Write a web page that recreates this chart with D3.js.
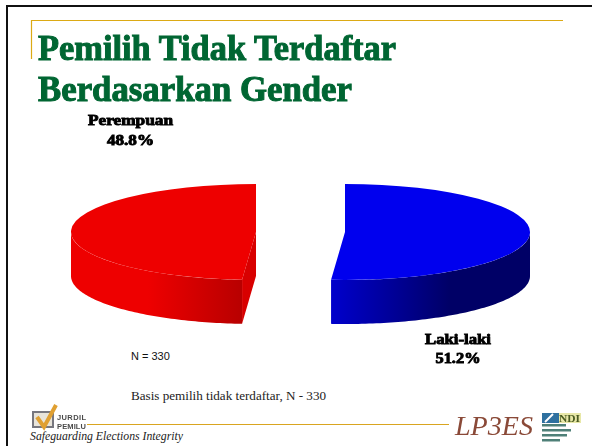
<!DOCTYPE html>
<html>
<head>
<meta charset="utf-8">
<script src="https://cdn.jsdelivr.net/npm/d3@7"></script>
<style>
  html, body { margin: 0; padding: 0; background: #fff; }
  svg { display: block; }
</style>
</head>
<body>
<svg id="chart"></svg>
<script>
const width = 592;
const height = 446;

const genders = ["Laki-laki", "Perempuan"];
const shares = [51.2, 48.8];
const titleLines = ["Pemilih Tidak Terdaftar", "Berdasarkan Gender"];
const ndiLines = [423, 428, 433, 438];

const svg = d3.select("#chart").attr("width", width).attr("height", height);
const defs = svg.append("defs");
defs.append("filter").attr("id", "soft").append("feGaussianBlur").attr("stdDeviation", 0.35);
defs.append("filter").attr("id", "softer").append("feGaussianBlur").attr("stdDeviation", 0.7);

// slide frame
svg.append("rect").attr("width", width).attr("height", height).attr("fill", "#fff");
svg.append("path").attr("d", "M7,446V6H592").attr("fill", "none").attr("stroke", "#111").attr("stroke-width", 2);
svg.append("path").attr("d", "M31.5,59V20.5H563").attr("fill", "none").attr("stroke", "#dcaa14").attr("stroke-width", 1.2);
svg.append("line").attr("x1", 87).attr("x2", 449).attr("y1", 424.5).attr("y2", 424.5).attr("stroke", "#d9a520").attr("stroke-width", 1.2);

svg.selectAll(".title").data(titleLines).enter().append("text").attr("class", "title")
  .attr("x", 38).attr("y", (d, i) => 60 + i * 40.5)
  .attr("font-family", "Liberation Serif").attr("font-weight", "bold").attr("font-size", 35)
  .attr("fill", "#006633").attr("stroke", "#006633").attr("stroke-width", 1)
  .attr("filter", "url(#soft)")
  .attr("textLength", (d, i) => i === 0 ? 358 : 314).attr("lengthAdjust", "spacingAndGlyphs")
  .text(d => d);

// pie: each slice is pulled apart, so each has its own centre
const rx = 185, ry = 48, depth = 44;
const centers = { "Laki-laki": [345, 232], "Perempuan": [256, 232] };
const topColor = { "Laki-laki": "#0000ee", "Perempuan": "#ee0000" };
const wallStops = {
  "Laki-laki": ["#0000cc", "#000066"],
  "Perempuan": ["#ee0000", "#b80000"]
};

const pie = d3.pie().sort(null).value(d => d.share);
const slices = pie(genders.map((g, i) => ({ gender: g, share: shares[i] })));
const arc = d3.arc().innerRadius(0).outerRadius(rx);

slices.forEach(s => {
  const name = s.data.gender;
  const [cx, cy] = centers[name];
  const px = a => cx + rx * Math.sin(a);
  const py = a => cy - ry * Math.cos(a);

  const gradId = "wall-" + name;
  const grad = defs.append("linearGradient").attr("id", gradId);
  grad.append("stop").attr("offset", name === "Perempuan" ? "0.45" : "0").attr("stop-color", wallStops[name][0]);
  grad.append("stop").attr("offset", name === "Perempuan" ? "1" : "0.6").attr("stop-color", wallStops[name][1]);

  // rim only where the outer edge faces the viewer
  const from = Math.max(s.startAngle, Math.PI / 2);
  const to = Math.min(s.endAngle, Math.PI * 1.5);
  const angles = d3.range(from, to, 0.02).concat([to]);
  const wall = d3.area().x(a => px(a)).y0(a => py(a)).y1(a => py(a) + depth);

  if (name === "Perempuan") {
    // cut face towards the centre of the pie
    svg.append("path")
      .attr("d", `M${cx},${cy}L${px(s.startAngle)},${py(s.startAngle)}v${depth}L${cx},${cy + depth}Z`)
      .attr("fill", "#d80000");
  }
  svg.append("path").attr("d", wall(angles)).attr("fill", `url(#${gradId})`);
  svg.append("path")
    .attr("transform", `translate(${cx},${cy}) scale(1,${ry / rx})`)
    .attr("d", arc(s))
    .attr("fill", topColor[name]);
});

// slice labels
const labelPos = {
  "Laki-laki": { x: 458, y1: 344, y2: 363, w1: 66, w2: 45 },
  "Perempuan": { x: 130.5, y1: 125, y2: 145, w1: 85, w2: 47 }
};
slices.forEach(s => {
  const name = s.data.gender;
  const p = labelPos[name];
  [[name, p.y1, p.w1], [s.data.share.toFixed(1) + "%", p.y2, p.w2]].forEach(([t, y, w]) => {
    svg.append("text").attr("x", p.x).attr("y", y).attr("text-anchor", "middle")
      .attr("font-family", "Liberation Serif").attr("font-weight", "bold").attr("font-size", 15)
      .attr("stroke", "#000").attr("stroke-width", 0.9).attr("filter", "url(#soft)")
      .attr("textLength", w).attr("lengthAdjust", "spacingAndGlyphs")
      .text(t);
  });
});

svg.append("text").attr("x", 131).attr("y", 360)
  .attr("font-family", "Liberation Sans").attr("font-size", 11).attr("fill", "#111").text("N = 330");
svg.append("text").attr("x", 131).attr("y", 400)
  .attr("font-family", "Liberation Serif").attr("font-size", 12.5).attr("fill", "#222")
  .attr("textLength", 195).attr("lengthAdjust", "spacingAndGlyphs").text("Basis pemilih tidak terdaftar, N - 330");
svg.append("text").attr("x", 30).attr("y", 440)
  .attr("font-family", "Liberation Serif").attr("font-style", "italic").attr("font-size", 12.5).attr("fill", "#222")
  .attr("textLength", 153).attr("lengthAdjust", "spacingAndGlyphs").text("Safeguarding Elections Integrity");

// Jurdil Pemilu logo
const logo = svg.append("g").attr("filter", "url(#soft)");
logo.append("rect").attr("x", 33).attr("y", 412).attr("width", 20).attr("height", 15).attr("fill", "#e8e4da").attr("stroke", "#77777f").attr("stroke-width", 2);
logo.append("path").attr("d", "M37,417L44,427L56,405").attr("fill", "none").attr("stroke", "#e0a030").attr("stroke-width", 4);
logo.selectAll("text").data(["JURDIL", "PEMILU"]).enter().append("text")
  .attr("x", 57).attr("y", (d, i) => 420 + i * 8.5)
  .attr("font-family", "Liberation Sans").attr("font-weight", "bold").attr("font-size", 7.5).attr("fill", "#4a4a4a")
  .attr("textLength", 29).attr("lengthAdjust", "spacing")
  .text(d => d);

// LP3ES and NDI logos
svg.append("text").attr("x", 455).attr("y", 435)
  .attr("font-family", "Liberation Serif").attr("font-style", "italic").attr("font-size", 27).attr("fill", "#8a4a38")
  .attr("filter", "url(#soft)")
  .attr("textLength", 78).attr("lengthAdjust", "spacingAndGlyphs").text("LP3ES");
const ndi = svg.append("g").attr("filter", "url(#soft)");
ndi.append("rect").attr("x", 542).attr("y", 413).attr("width", 39).attr("height", 10).attr("fill", "#e8e8a8");
ndi.append("rect").attr("x", 542).attr("y", 413).attr("width", 17).attr("height", 10).attr("fill", "#2f6f9f");
ndi.append("path").attr("d", "M545,422L553,414").attr("stroke", "#fff").attr("stroke-width", 2);
ndi.append("text").attr("x", 559).attr("y", 422).attr("font-family", "Liberation Serif").attr("font-weight", "bold").attr("font-size", 11)
  .attr("fill", "#4a5a20").attr("textLength", 21).attr("lengthAdjust", "spacingAndGlyphs").text("NDI");
ndi.selectAll(".ndi-line").data(ndiLines).enter().append("rect").attr("class", "ndi-line")
  .attr("x", 542).attr("y", d => d + 1).attr("height", 2.5).attr("width", (d, i) => [24, 29, 25, 18][i])
  .attr("fill", "#4f8078");
</script>
</body>
</html>
